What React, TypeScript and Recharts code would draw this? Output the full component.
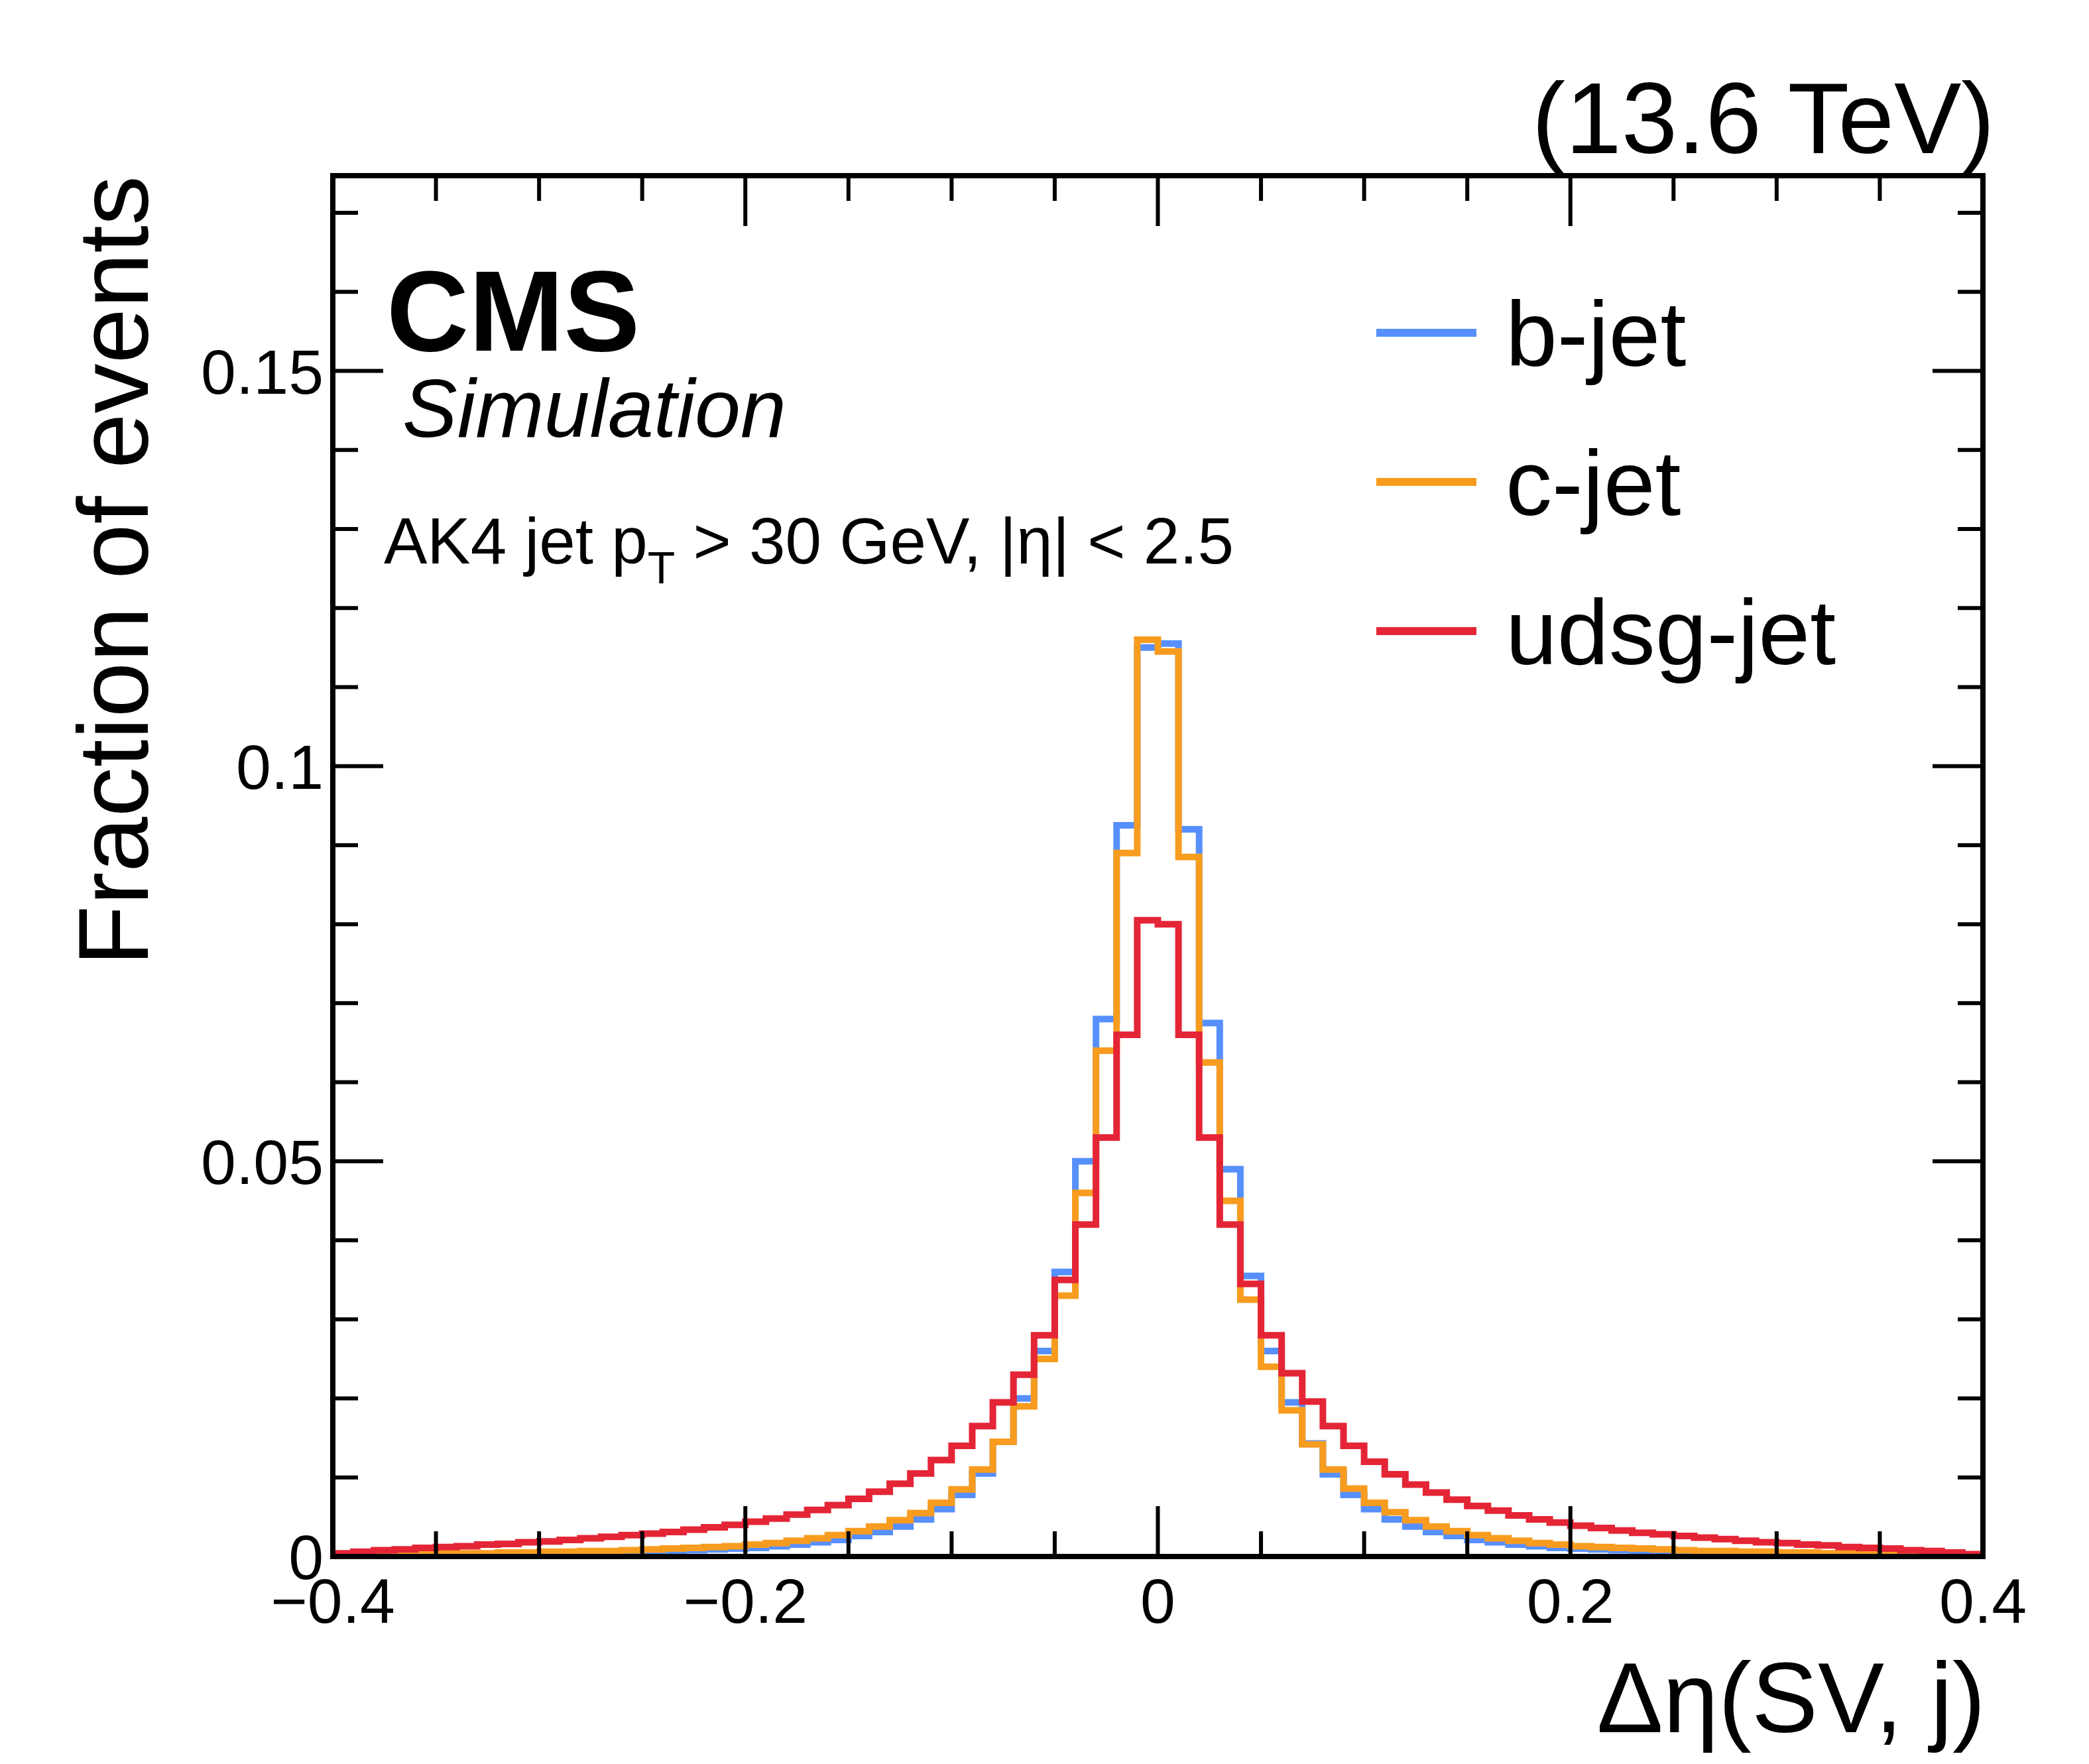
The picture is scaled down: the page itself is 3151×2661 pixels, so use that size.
import React from "react";
import { ComposedChart, Line, XAxis, YAxis } from "recharts";

// bin contents, 80 bins of width 0.01 from -0.4 to 0.4
const bJet = [
  0.0001, 0.0002, 0.0002, 0.0002, 0.0002, 0.0003, 0.0003, 0.0003, 0.0004, 0.0004,
  0.0004, 0.0005, 0.0005, 0.0006, 0.0006, 0.0007, 0.0007, 0.0008, 0.0009, 0.0010,
  0.0011, 0.0013, 0.0015, 0.0018, 0.0021, 0.0026, 0.0031, 0.0038, 0.0047, 0.0060,
  0.0078, 0.0105, 0.0145, 0.0200, 0.0260, 0.0360, 0.0500, 0.0680, 0.0925, 0.1150,
  0.1155, 0.0920, 0.0675, 0.0490, 0.0355, 0.0260, 0.0195, 0.0143, 0.0104, 0.0078,
  0.0060, 0.0047, 0.0038, 0.0031, 0.0026, 0.0021, 0.0018, 0.0015, 0.0013, 0.0011,
  0.0010, 0.0009, 0.0008, 0.0007, 0.0007, 0.0006, 0.0006, 0.0005, 0.0005, 0.0004,
  0.0004, 0.0004, 0.0003, 0.0003, 0.0003, 0.0002, 0.0002, 0.0002, 0.0002, 0.0001,
];
const cJet = [
  0.0002, 0.0002, 0.0003, 0.0003, 0.0003, 0.0004, 0.0004, 0.0004, 0.0005, 0.0005,
  0.0006, 0.0006, 0.0007, 0.0007, 0.0008, 0.0009, 0.0010, 0.0011, 0.0012, 0.0013,
  0.0015, 0.0017, 0.0020, 0.0023, 0.0027, 0.0032, 0.0038, 0.0046, 0.0055, 0.0068,
  0.0085, 0.0110, 0.0145, 0.0190, 0.0250, 0.0330, 0.0460, 0.0640, 0.0890, 0.1160,
  0.1145, 0.0885, 0.0625, 0.0450, 0.0325, 0.0240, 0.0185, 0.0142, 0.0110, 0.0086,
  0.0068, 0.0056, 0.0046, 0.0038, 0.0032, 0.0027, 0.0023, 0.0020, 0.0017, 0.0015,
  0.0013, 0.0012, 0.0011, 0.0010, 0.0009, 0.0008, 0.0007, 0.0007, 0.0006, 0.0006,
  0.0005, 0.0005, 0.0004, 0.0004, 0.0004, 0.0003, 0.0003, 0.0003, 0.0002, 0.0002,
];
const udsgJet = [
  0.0004, 0.0006, 0.0008, 0.0009, 0.0011, 0.0012, 0.0013, 0.0015, 0.0016, 0.0018,
  0.0019, 0.0021, 0.0023, 0.0025, 0.0027, 0.0029, 0.0031, 0.0034, 0.0037, 0.0040,
  0.0044, 0.0048, 0.0053, 0.0059, 0.0065, 0.0073, 0.0082, 0.0092, 0.0105, 0.0122,
  0.0140, 0.0165, 0.0195, 0.0230, 0.0280, 0.0350, 0.0420, 0.0530, 0.0660, 0.0805,
  0.0800, 0.0660, 0.0530, 0.0420, 0.0345, 0.0280, 0.0232, 0.0196, 0.0165, 0.0140,
  0.0120, 0.0104, 0.0091, 0.0081, 0.0072, 0.0064, 0.0058, 0.0052, 0.0047, 0.0043,
  0.0039, 0.0036, 0.0033, 0.0030, 0.0028, 0.0026, 0.0024, 0.0022, 0.0020, 0.0018,
  0.0017, 0.0015, 0.0014, 0.0012, 0.0011, 0.0010, 0.0008, 0.0007, 0.0005, 0.0003,
];

const xMajor = [-0.4, -0.2, 0, 0.2, 0.4];
const xTicks = [-0.4, -0.35, -0.3, -0.25, -0.2, -0.15, -0.1, -0.05, 0, 0.05, 0.1, 0.15, 0.2, 0.25, 0.3, 0.35, 0.4];
const xLabels = ["\u22120.4", "\u22120.2", "0", "0.2", "0.4"];
const yMajor = [0, 0.05, 0.1, 0.15];
const yTicks = [0, 0.01, 0.02, 0.03, 0.04, 0.05, 0.06, 0.07, 0.08, 0.09, 0.1, 0.11, 0.12, 0.13, 0.14, 0.15, 0.16, 0.17];
const yLabels = ["0", "0.05", "0.1", "0.15"];

const series = [
  { key: "b", name: "b-jet", color: "#5790fc", values: bJet },
  { key: "c", name: "c-jet", color: "#f89c20", values: cJet },
  { key: "udsg", name: "udsg-jet", color: "#e42536", values: udsgJet },
];

const W = 3140;
const H = 2650;
const PL = 494;
const PR = 2983;
const PT = 257;
const PB = 2340;
const Y_AXIS_W = 60;
const X_AXIS_H = 30;
const M = { top: PT, right: W - PR, bottom: H - PB - X_AXIS_H, left: PL - Y_AXIS_W };
const FONT = "'Liberation Sans', Arial, sans-serif";

const data = Array.from({ length: 81 }, (_, i) => {
  const j = Math.min(i, 79);
  return {
    x: Math.round((-0.4 + i * 0.01) * 1000) / 1000,
    b: bJet[j],
    c: cJet[j],
    udsg: udsgJet[j],
  };
});

const isMajor = (v: number, list: number[]) => list.some((m) => Math.abs(m - v) < 1e-6);

function XTick(props: any) {
  const { x, payload } = props;
  const v = payload.value;
  const major = isMajor(v, xMajor);
  const len = major ? 76 : 38;
  const idx = xMajor.findIndex((m) => Math.abs(m - v) < 1e-6);
  return (
    <g>
      <line x1={x} x2={x} y1={PB} y2={PB - len} stroke="#000" strokeWidth={6} />
      <line x1={x} x2={x} y1={PT} y2={PT + len} stroke="#000" strokeWidth={6} />
      {major ? (
        <text x={x} y={2440} textAnchor="middle" fontSize={95} fontFamily={FONT} fill="#000">
          {xLabels[idx]}
        </text>
      ) : null}
    </g>
  );
}

function YTick(props: any) {
  const { y, payload } = props;
  const v = payload.value;
  const major = isMajor(v, yMajor);
  const len = major ? 76 : 38;
  const idx = yMajor.findIndex((m) => Math.abs(m - v) < 1e-6);
  return (
    <g>
      <line x1={PL} x2={PL + len} y1={y} y2={y} stroke="#000" strokeWidth={6} />
      <line x1={PR} x2={PR - len} y1={y} y2={y} stroke="#000" strokeWidth={6} />
      {major ? (
        <text x={PL - 14} y={y + 34} textAnchor="end" fontSize={95} fontFamily={FONT} fill="#000">
          {yLabels[idx]}
        </text>
      ) : null}
    </g>
  );
}

export default function App() {
  return (
    <div style={{ position: "relative", width: W, height: H, background: "#fff" }}>
      <ComposedChart width={W} height={H} data={data} margin={M}>
        <XAxis
          dataKey="x"
          type="number"
          domain={[-0.4, 0.4]}
          ticks={xTicks}
          tick={<XTick />}
          tickLine={false}
          axisLine={false}
          interval={0}
          height={X_AXIS_H}
        />
        <YAxis
          type="number"
          domain={[0, 0.1747]}
          ticks={yTicks}
          tick={<YTick />}
          tickLine={false}
          axisLine={false}
          interval={0}
          width={Y_AXIS_W}
        />
        {series.map((s) => (
          <Line
            key={s.key}
            dataKey={s.key}
            type="stepAfter"
            stroke={s.color}
            strokeWidth={10}
            dot={false}
            isAnimationActive={false}
          />
        ))}
      </ComposedChart>
      <svg width={W} height={H} style={{ position: "absolute", left: 0, top: 0, pointerEvents: "none" }}>
        <rect x={PL} y={PT} width={PR - PL} height={PB - PT} fill="none" stroke="#000" strokeWidth={8} />
        <text x={3001} y={223} textAnchor="end" fontSize={152} fontFamily={FONT}>(13.6 TeV)</text>
        <text x={575} y={521} fontSize={172} fontWeight="bold" fontFamily={FONT}>CMS</text>
        <text x={599} y={651} fontSize={124} fontStyle="italic" fontFamily={FONT}>Simulation</text>
        <text x={571} y={842} fontSize={98} fontFamily={FONT}>
          AK4 jet p<tspan dy={30} fontSize={68}>T</tspan>
          <tspan dy={-30}> &gt; 30 GeV, |η| &lt; 2.5</tspan>
        </text>
        {series.map((s, i) => (
          <g key={s.key}>
            <line x1={2068} x2={2219} y1={494 + i * 225} y2={494 + i * 225} stroke={s.color} strokeWidth={12} />
            <text x={2263} y={494 + i * 225 + 50} fontSize={140} fontFamily={FONT}>{s.name}</text>
          </g>
        ))}
        <text
          transform={`translate(215, ${PT}) rotate(-90)`}
          textAnchor="end"
          fontSize={150}
          fontFamily={FONT}
        >
          Fraction of events
        </text>
        <text x={2987} y={2605} textAnchor="end" fontSize={150} fontFamily={FONT}>Δη(SV, j)</text>
      </svg>
    </div>
  );
}
